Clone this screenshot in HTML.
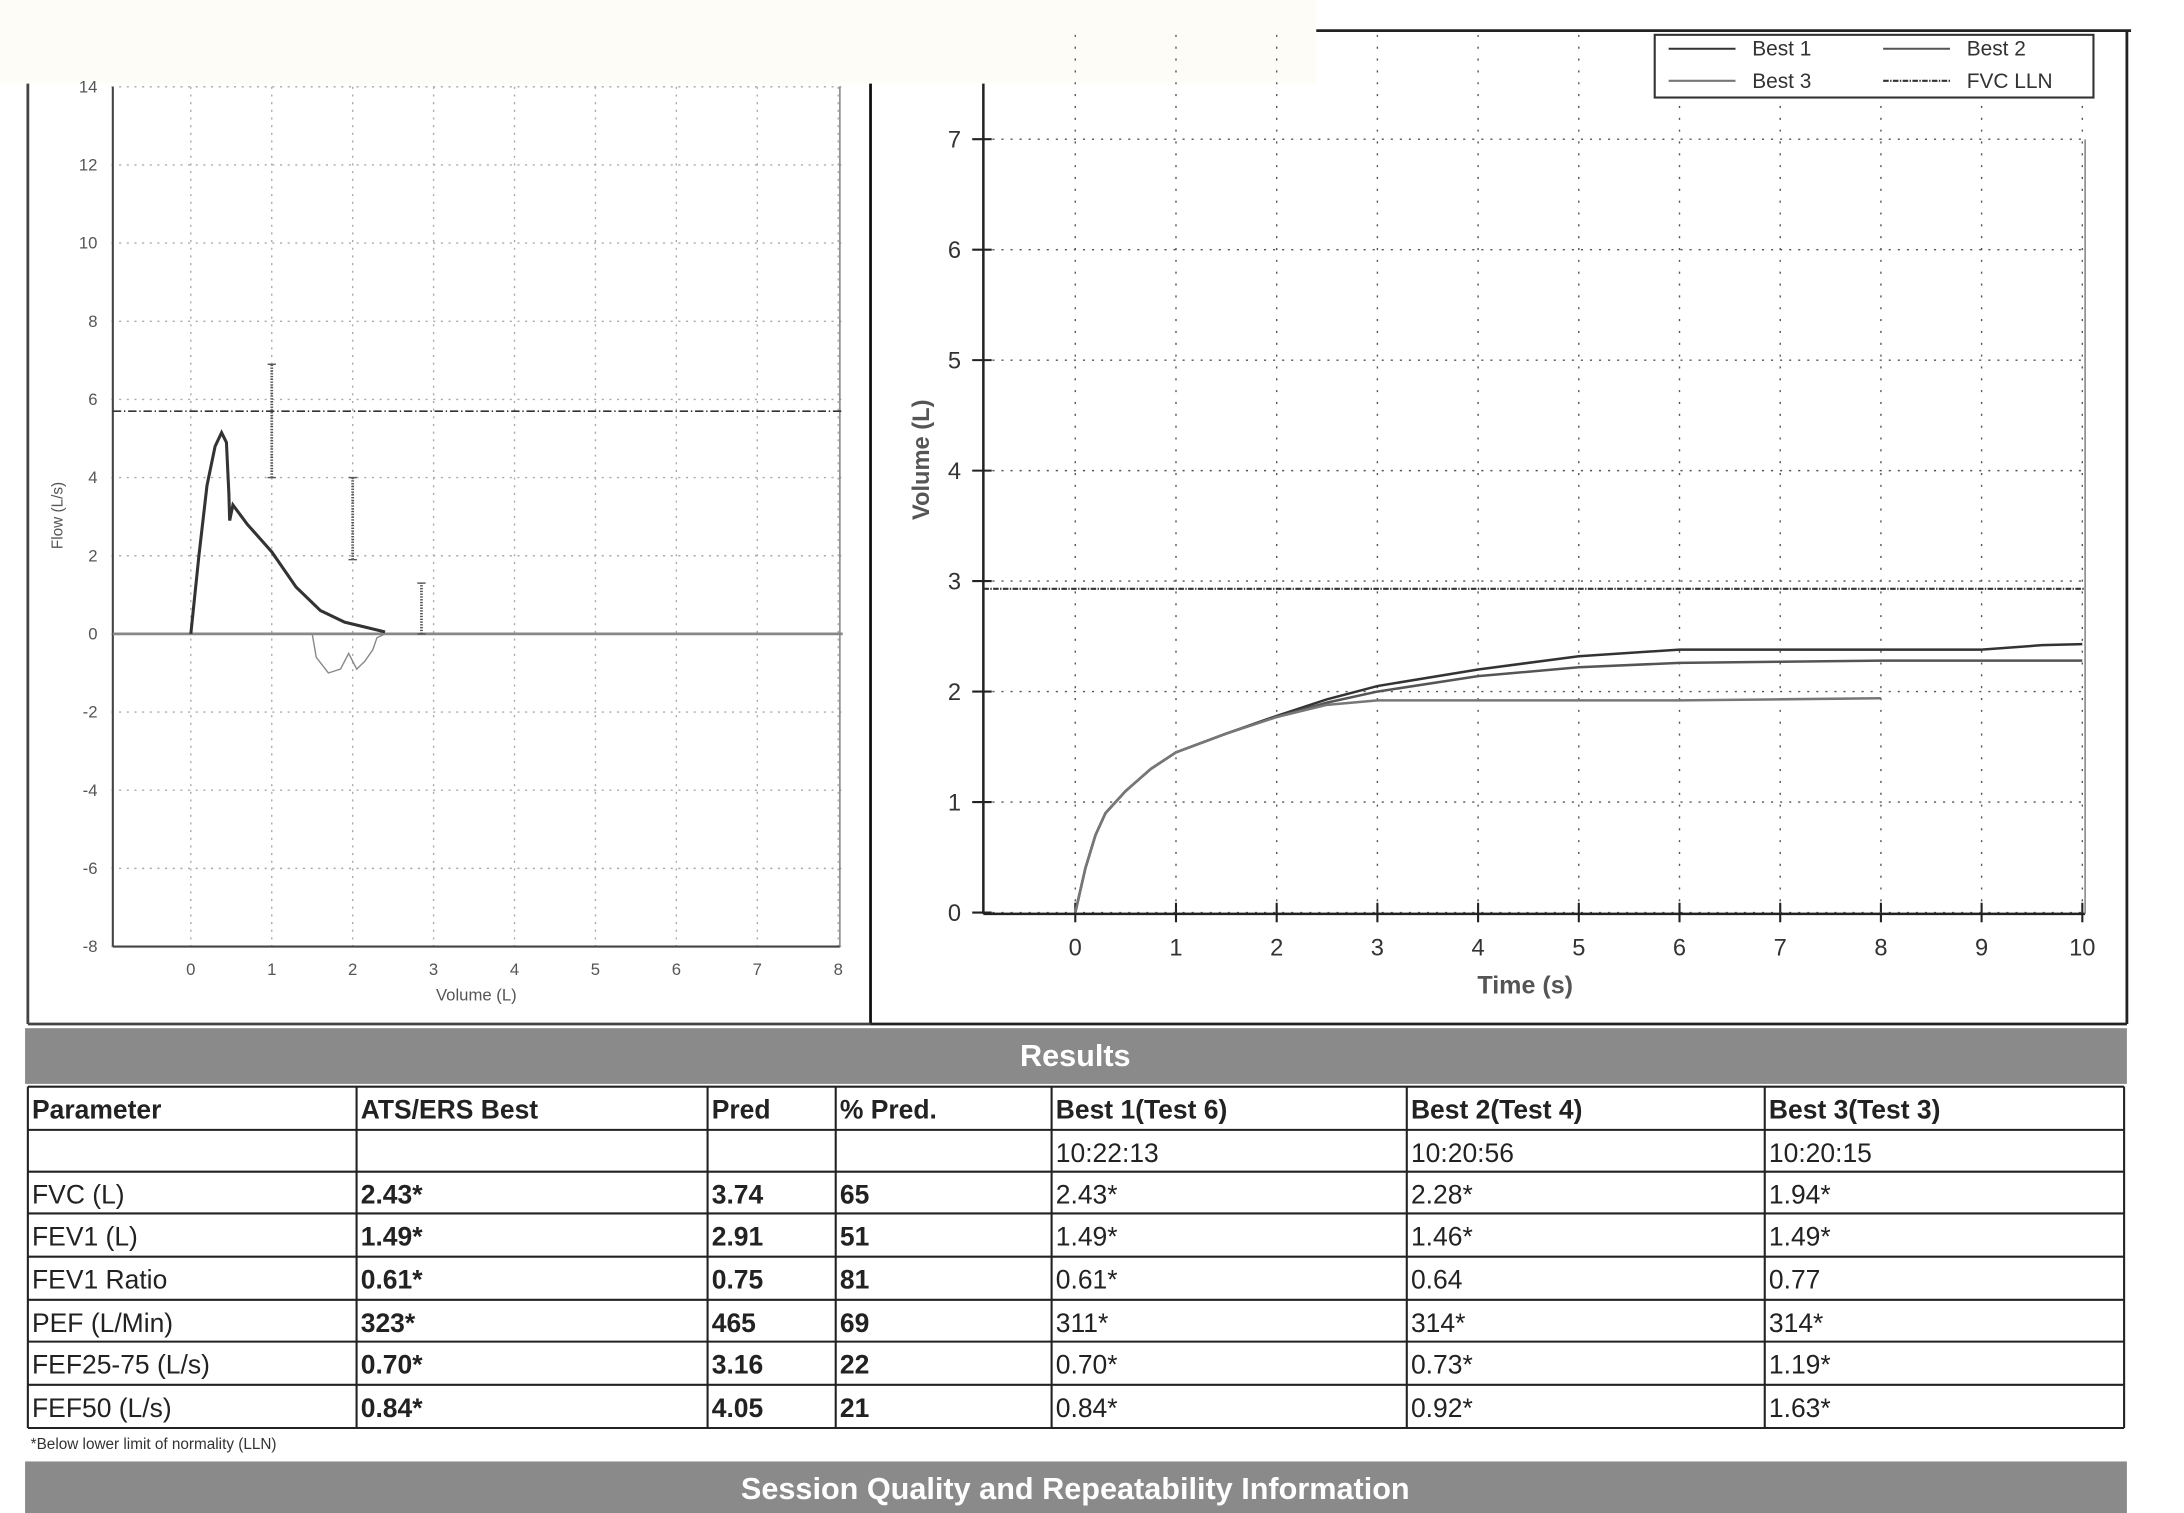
<!DOCTYPE html>
<html><head><meta charset="utf-8"><style>
html,body{margin:0;padding:0;background:#fff;}
svg{display:block;font-family:"Liberation Sans",sans-serif;}
</style></head><body>
<svg id="s" width="2184" height="1513" viewBox="0 0 1568 1086" preserveAspectRatio="none">
<rect x="0" y="0" width="1568" height="1086" fill="#fff"/>
<rect x="0" y="0" width="945" height="60" fill="#fdfcf6"/>
<g id="left"></g>
<g id="right"></g>
<g id="tbl"></g>
</svg>
<script>
const NS="http://www.w3.org/2000/svg";
function mk(p,t,a,txt){const e=document.createElementNS(NS,t);for(const k in a)e.setAttribute(k,a[k]);if(txt!==undefined)e.textContent=txt;p.appendChild(e);return e;}
// ---- Flow-volume data ----
const fvVolExp=[0,0.1,0.2,0.3,0.38,0.44,0.47,0.48,0.52,0.7,1.0,1.3,1.6,1.9,2.2,2.4];
const fvFlowExp=[0,2.0,3.8,4.8,5.15,4.9,3.6,2.9,3.3,2.8,2.1,1.2,0.6,0.3,0.15,0.05];
const fvVolInsp=[1.5,1.55,1.7,1.85,1.95,2.05,2.15,2.25,2.3,2.4];
const fvFlowInsp=[0,-0.6,-1.0,-0.9,-0.5,-0.9,-0.7,-0.4,-0.1,0];
const flowLLN=5.7;
const errX=[1,2,2.85], errLo=[4,1.9,0], errHi=[6.9,4,1.3];
const fvXTicks=[0,1,2,3,4,5,6,7,8];
const fvYTicks=[14,12,10,8,6,4,2,0,-2,-4,-6,-8];
// ---- Volume-time data ----
const vtTime=[0,0.1,0.2,0.3,0.5,0.75,1,1.5,2,2.5,3,4,5,6,7,8,9,9.6,10];
const best1=[0,0.4,0.7,0.9,1.1,1.3,1.45,1.62,1.78,1.93,2.05,2.2,2.32,2.38,2.38,2.38,2.38,2.42,2.43];
const best2=[0,0.4,0.7,0.9,1.1,1.3,1.45,1.62,1.77,1.9,2.0,2.14,2.22,2.26,2.27,2.28,2.28,2.28,2.28];
const best3T=[0,0.1,0.2,0.3,0.5,0.75,1,1.5,2,2.5,3,4,5,6,7,8];
const best3=[0,0.4,0.7,0.9,1.1,1.3,1.45,1.62,1.77,1.88,1.92,1.92,1.92,1.92,1.93,1.94];
const fvcLLN=2.93;
const vtXTicks=[0,1,2,3,4,5,6,7,8,9,10];
const vtYTicks=[0,1,2,3,4,5,6,7];

// Left chart
const L=document.getElementById('left');
const fx=v=>137+v*58.1, fy=v=>455-v*28.05;
mk(L,'line',{x1:20,y1:60,x2:20,y2:735,stroke:'#444','stroke-width':2});
mk(L,'line',{x1:625,y1:60,x2:625,y2:735,stroke:'#111','stroke-width':2});
fvXTicks.forEach(t=>{const g=mk(L,'line',{x1:fx(t),y1:fy(14),x2:fx(t),y2:fy(-8),stroke:'#aaa','stroke-dasharray':'1.5 4'});
 const tx=mk(L,'text',{x:fx(t),y:700,'font-size':12,'text-anchor':'middle',fill:'#555'},t);});
fvYTicks.forEach(t=>{mk(L,'line',{x1:80,y1:fy(t),x2:605,y2:fy(t),stroke:'#aaa','stroke-dasharray':'1.5 4'});
 const tx=mk(L,'text',{x:70,y:fy(t)+4,'font-size':12,'text-anchor':'end',fill:'#555'},t);});
mk(L,'line',{x1:81,y1:fy(14),x2:81,y2:fy(-8),stroke:'#444','stroke-width':1.5});
mk(L,'line',{x1:81,y1:fy(-8),x2:603,y2:fy(-8),stroke:'#444','stroke-width':1.5});
mk(L,'line',{x1:603,y1:fy(14),x2:603,y2:fy(-8),stroke:'#777','stroke-width':1});
mk(L,'line',{x1:81,y1:fy(0),x2:605,y2:fy(0),stroke:'#888','stroke-width':2});
let e=mk(L,'line',{x1:81,y1:fy(flowLLN),x2:605,y2:fy(flowLLN),stroke:'#333','stroke-width':1.2,'stroke-dasharray':'6 2 1 2'});

errX.forEach((x,i)=>{const g=mk(L,'line',{x1:fx(x),y1:fy(errLo[i]),x2:fx(x),y2:fy(errHi[i]),stroke:'#555','stroke-width':2,'stroke-dasharray':'1 1'});
 mk(L,'line',{x1:fx(x)-3,y1:fy(errLo[i]),x2:fx(x)+3,y2:fy(errLo[i]),stroke:'#555'});mk(L,'line',{x1:fx(x)-3,y1:fy(errHi[i]),x2:fx(x)+3,y2:fy(errHi[i]),stroke:'#555'});});
e=mk(L,'polyline',{points:fvVolExp.map((v,i)=>fx(v)+','+fy(fvFlowExp[i])).join(' '),fill:'none',stroke:'#333','stroke-width':2.2});

e=mk(L,'polyline',{points:fvVolInsp.map((v,i)=>fx(v)+','+fy(fvFlowInsp[i])).join(' '),fill:'none',stroke:'#888','stroke-width':1});

e=mk(L,'text',{x:342,y:718,'font-size':12,'text-anchor':'middle',fill:'#555'},'Volume (L)');
e=mk(L,'text',{x:45,y:370,'font-size':11,'text-anchor':'middle',fill:'#555',transform:'rotate(-90 45 370)'},'Flow (L/s)');

// Right chart
const R=document.getElementById('right');
const tx_=v=>772+v*72.3, vy=v=>655-v*79.3;
mk(R,'line',{x1:945,y1:22,x2:1530,y2:22,stroke:'#222','stroke-width':2});
mk(R,'line',{x1:1527,y1:22,x2:1527,y2:735,stroke:'#222','stroke-width':2});
vtXTicks.forEach(t=>{mk(R,'line',{x1:tx_(t),y1:25,x2:tx_(t),y2:655,stroke:'#555','stroke-dasharray':'1.5 7'});
 mk(R,'line',{x1:tx_(t),y1:648,x2:tx_(t),y2:662,stroke:'#222','stroke-width':1.5});
 const g=mk(R,'text',{x:tx_(t),y:686,'font-size':17,'text-anchor':'middle',fill:'#333'},t);});
vtYTicks.forEach(t=>{mk(R,'line',{x1:706,y1:vy(t),x2:1497,y2:vy(t),stroke:'#555','stroke-dasharray':'1.5 5'});
 mk(R,'line',{x1:698,y1:vy(t),x2:712,y2:vy(t),stroke:'#222','stroke-width':1.5});
 const g=mk(R,'text',{x:690,y:vy(t)+6,'font-size':17,'text-anchor':'end',fill:'#333'},t);});
mk(R,'line',{x1:706,y1:60,x2:706,y2:656,stroke:'#222','stroke-width':1.8});
mk(R,'line',{x1:706,y1:656,x2:1497,y2:656,stroke:'#222','stroke-width':1.8});
mk(R,'line',{x1:1497,y1:100,x2:1497,y2:656,stroke:'#777','stroke-width':1});
e=mk(R,'line',{x1:706,y1:vy(fvcLLN),x2:1497,y2:vy(fvcLLN),stroke:'#333','stroke-width':1.5,'stroke-dasharray':'4 1 1 1'});

[[vtTime,best1,'#333','best-1-curve'],[vtTime,best2,'#555','best-2-curve'],[best3T,best3,'#777','best-3-curve']].forEach(s=>{
 const g=mk(R,'polyline',{points:s[0].map((t,i)=>tx_(t)+','+vy(s[1][i])).join(' '),fill:'none',stroke:s[2],'stroke-width':1.8});
 });
e=mk(R,'text',{x:1095,y:713,'font-size':18,'font-weight':'bold','text-anchor':'middle',fill:'#555'},'Time (s)');
e=mk(R,'text',{x:667,y:330,'font-size':17,'font-weight':'bold','text-anchor':'middle',fill:'#555',transform:'rotate(-90 667 330)'},'Volume (L)');
const lg=mk(R,'g',{});
mk(lg,'rect',{x:1188,y:25,width:315,height:45,fill:'#fff',stroke:'#333','stroke-width':1.5});
[['Best 1',1198,35,'#333','none'],['Best 3',1198,58,'#777','none'],['Best 2',1352,35,'#555','none'],['FVC LLN',1352,58,'#333','4 1 1 1']].forEach(l=>{
 const g=mk(lg,'g',{});
 mk(g,'line',{x1:l[1],y1:l[2],x2:l[1]+48,y2:l[2],stroke:l[3],'stroke-width':1.5,'stroke-dasharray':l[4]});
 mk(g,'text',{x:l[1]+60,y:l[2]+5,'font-size':15,fill:'#333'},l[0]);});

// Table
const T=document.getElementById('tbl');
mk(T,'line',{x1:625,y1:735,x2:1527,y2:735,stroke:'#222','stroke-width':2});
mk(T,'line',{x1:20,y1:735,x2:625,y2:735,stroke:'#444','stroke-width':2});
e=mk(T,'rect',{x:18,y:738,width:1509,height:40,fill:'#8a8a8a'});
mk(T,'text',{x:772,y:765,'font-size':22,'font-weight':'bold','text-anchor':'middle',fill:'#fff'},'Results');
const cols=[20,256,508,600,755,1010,1267,1525];
const rowsY=[780,811,841,871,902,933,963,994,1025];
const rows=[
 ['Parameter','ATS/ERS Best','Pred','% Pred.','Best 1(Test 6)','Best 2(Test 4)','Best 3(Test 3)'],
 ['','','','','10:22:13','10:20:56','10:20:15'],
 ['FVC (L)','2.43*','3.74','65','2.43*','2.28*','1.94*'],
 ['FEV1 (L)','1.49*','2.91','51','1.49*','1.46*','1.49*'],
 ['FEV1 Ratio','0.61*','0.75','81','0.61*','0.64','0.77'],
 ['PEF (L/Min)','323*','465','69','311*','314*','314*'],
 ['FEF25-75 (L/s)','0.70*','3.16','22','0.70*','0.73*','1.19*'],
 ['FEF50 (L/s)','0.84*','4.05','21','0.84*','0.92*','1.63*']];
rowsY.forEach(y=>mk(T,'line',{x1:20,y1:y,x2:1525,y2:y,stroke:'#222','stroke-width':1.5}));
cols.forEach(x=>mk(T,'line',{x1:x,y1:780,x2:x,y2:1025,stroke:'#222','stroke-width':1.5}));
rows.forEach((r,i)=>{const g=mk(T,'g',{});
 r.forEach((c,j)=>{const bold=(i===0)||(j>=1&&j<=3);mk(g,'text',{x:cols[j]+3,y:rowsY[i]+23,'font-size':19,'font-weight':bold?'bold':'normal',fill:'#222'},c);});});
e=mk(T,'text',{x:22,y:1040,'font-size':11,fill:'#333'},'*Below lower limit of normality (LLN)');
e=mk(T,'rect',{x:18,y:1049,width:1509,height:37,fill:'#8a8a8a'});
mk(T,'text',{x:772,y:1076,'font-size':22,'font-weight':'bold','text-anchor':'middle',fill:'#fff'},'Session Quality and Repeatability Information');
</script>
</body></html>
